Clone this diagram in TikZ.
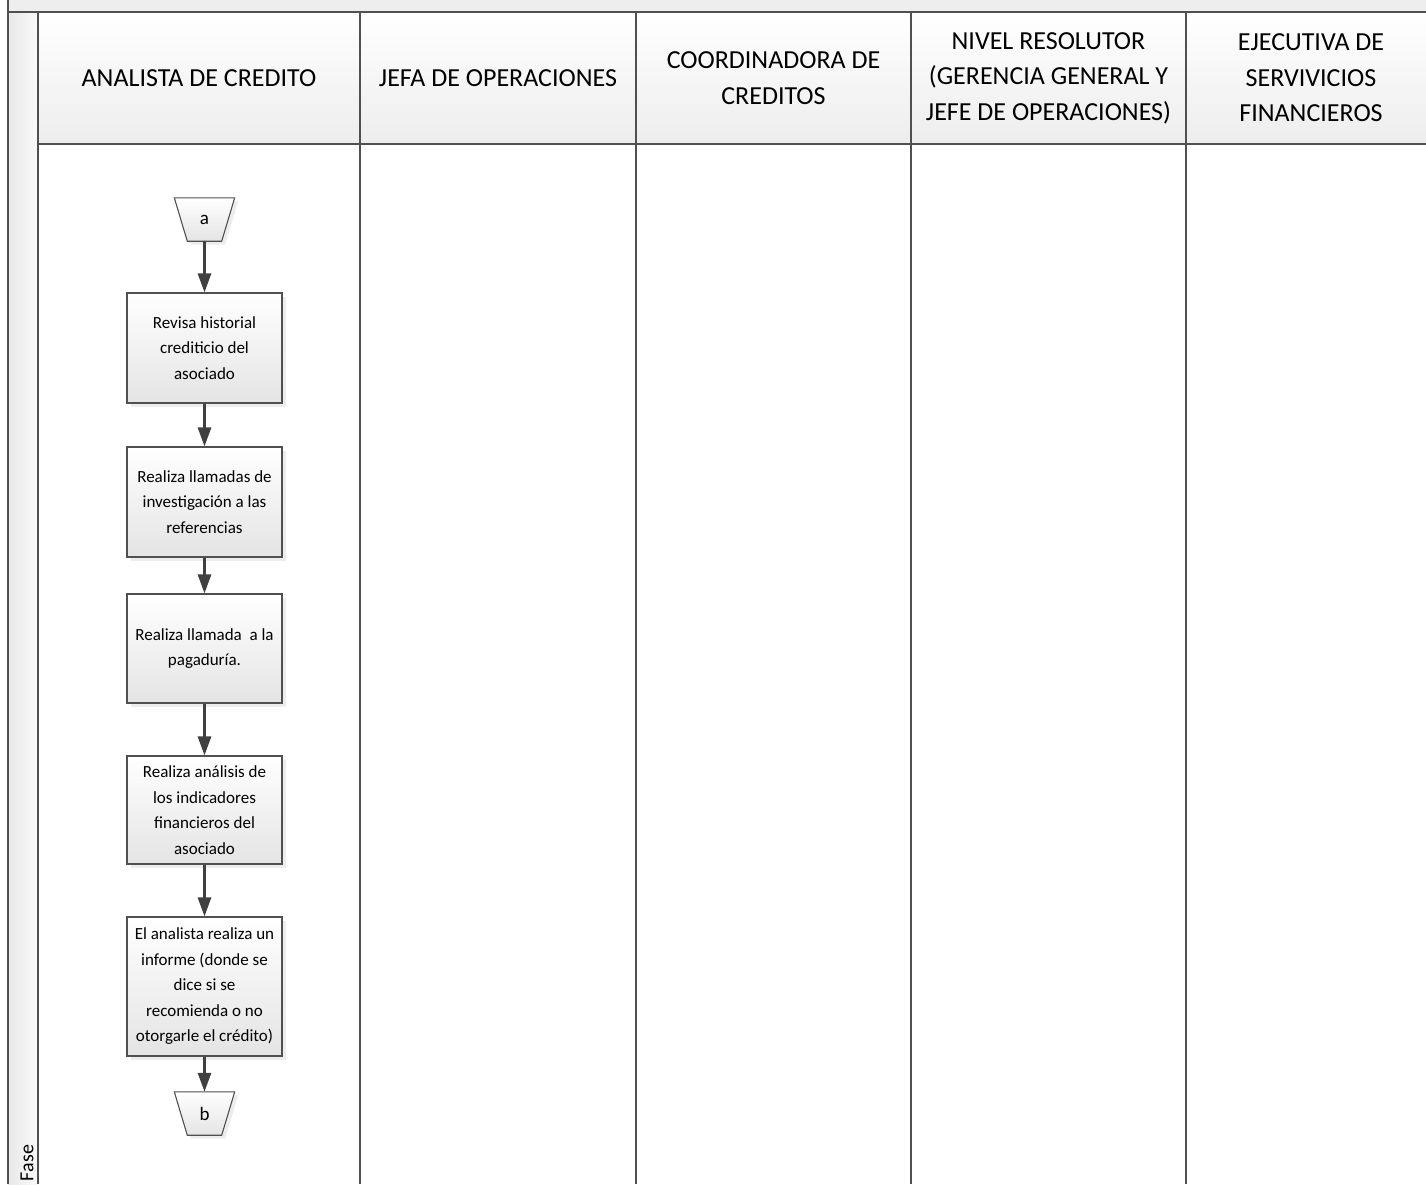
\documentclass[tikz,border=0pt]{standalone}
\usepackage{fontspec}
\setmainfont{Carlito}
\usetikzlibrary{arrows.meta,calc,shadows}

\definecolor{linegray}{HTML}{505050}
\definecolor{arrowgray}{HTML}{404040}
\definecolor{boxbot}{HTML}{E4E4E4}
\definecolor{headbot}{HTML}{EDEDED}
\definecolor{topstrip}{HTML}{EEEEEE}

\tikzset{
  frameline/.style={draw=linegray, line width=1.4pt},
  lanetitle/.style={align=center, font=\fontsize{26}{35.5}\selectfont, inner sep=0pt},
  softshadow/.style={drop shadow={shadow xshift=3.5pt, shadow yshift=-3.5pt, fill=black!14}},
  procbox/.style={draw=linegray, line width=1.1pt, top color=white, bottom color=boxbot,
    minimum width=155pt, align=center, inner sep=2pt,
    font=\fontsize{17}{25.5}\selectfont, softshadow},
  pageref/.style={minimum width=60pt, minimum height=43pt, inner sep=0pt,
    font=\fontsize{19}{22}\selectfont},
  trapedge/.style={draw=linegray, line width=1.1pt, top color=white, bottom color=boxbot, softshadow},
  flow/.style={draw=arrowgray, line width=2.8pt, -{Triangle[length=19pt,width=13pt]}},
}

\begin{document}
\begin{tikzpicture}[x=1pt,y=-1pt]
\useasboundingbox (0,0) rectangle (1426,1184);

% pool title strip and phase column
\fill[topstrip] (8,0) rectangle (1426,12);
\shade[left color=black!9, right color=black!2] (8,12) rectangle (38,1184);

% lane headers
\shade[top color=white, bottom color=headbot] (38,12) rectangle (1426,144);

% frame lines
\draw[frameline] (8,0) -- (8,1184);
\draw[frameline] (8,12) -- (1426,12);
\draw[frameline] (38,144) -- (1426,144);
\foreach \lx in {38,360,636,911,1186} {
  \draw[frameline] (\lx,12) -- (\lx,1184);
}

% lane titles
\node[lanetitle] (l1) at (199,78) {ANALISTA DE CREDITO};
\node[lanetitle] (l2) at (498,78) {JEFA DE OPERACIONES};
\node[lanetitle] (l3) at (773.5,78) {COORDINADORA DE\\CREDITOS};
\node[lanetitle] (l4) at (1048.5,78) {NIVEL RESOLUTOR\\(GERENCIA GENERAL Y\\JEFE DE OPERACIONES)};
\node[lanetitle] (l5) at (1311,78) {EJECUTIVA DE\\SERVIVICIOS\\FINANCIEROS};

% phase label
\node[rotate=90, font=\fontsize{20}{22}\selectfont, inner sep=0pt] (fase) at (27,1163) {Fase};

% off-page connector a
\node[pageref] (ca) at (204.5,219.5) {};
\path[trapedge] (ca.north west) -- (ca.north east)
  -- ($(ca.south east)+(-13,0)$) -- ($(ca.south west)+(13,0)$) -- cycle;
\node[pageref] at (ca.center) {a};

% process steps
\node[procbox, minimum height=110pt] (s1) at (204.5,348)
  {Revisa historial\\crediticio del\\asociado};
\node[procbox, minimum height=110pt] (s2) at (204.5,502)
  {Realiza llamadas de\\investigación a las\\referencias};
\node[procbox, minimum height=109pt] (s3) at (204.5,648.5)
  {Realiza llamada\ \ a la\\pagaduría.};
\node[procbox, minimum height=108pt] (s4) at (204.5,810)
  {Realiza análisis de\\los indicadores\\financieros del\\asociado};
\node[procbox, minimum height=139pt] (s5) at (204.5,986.5)
  {El analista realiza un\\informe (donde se\\dice si se\\recomienda o no\\otorgarle el crédito)};

% off-page connector b
\node[pageref] (cb) at (204.5,1113.5) {};
\path[trapedge] (cb.north west) -- (cb.north east)
  -- ($(cb.south east)+(-13,0)$) -- ($(cb.south west)+(13,0)$) -- cycle;
\node[pageref] at (cb.center) {b};

% flow connectors
\draw[flow] (ca.south) -- (s1.north);
\draw[flow] (s1.south) -- (s2.north);
\draw[flow] (s2.south) -- (s3.north);
\draw[flow] (s3.south) -- (s4.north);
\draw[flow] (s4.south) -- (s5.north);
\draw[flow] (s5.south) -- (cb.north);
\end{tikzpicture}
\end{document}
